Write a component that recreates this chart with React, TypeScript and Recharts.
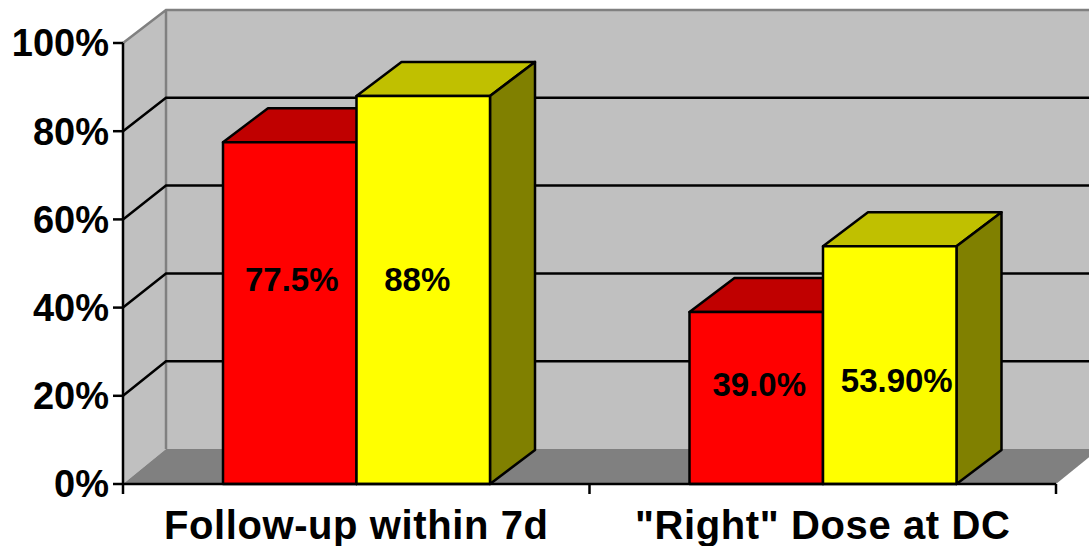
import { BarChart, Bar, XAxis, YAxis, LabelList, usePlotArea } from 'recharts';

const categories = ['Follow-up within 7d', '"Right" Dose at DC'];
const redValues = [77.5, 39.0];
const yellowValues = [88, 53.9];
const redLabels = ['77.5%', '39.0%'];
const yellowLabels = ['88%', '53.90%'];
const yTicks = [0, 20, 40, 60, 80, 100];

const chartData = categories.map((category, i) => ({
  category,
  red: redValues[i],
  yellow: yellowValues[i],
}));

const FONT = '"Liberation Sans", Arial, sans-serif';
const WALL_DX = 43;
const WALL_TOP = 33; // back wall top sits this far above the front 100% line
const WALL_FLOOR = 35; // back wall floor sits this far above the front 0% line
const BAR_DX = 45;
const BAR_DY = 34;
const LINE = 2.5;

// Floor, walls and gridlines behind the bars
const Walls = () => {
  const plot = usePlotArea();
  if (!plot) return null;
  const { x, y, width, height } = plot;
  const bottom = y + height;
  const backLeft = x + WALL_DX;
  const backRight = x + width + WALL_DX;
  const backTop = y - WALL_TOP;
  const backBottom = bottom - WALL_FLOOR;
  const frontY = (v: number) => bottom - (v / 100) * height;
  const backY = (v: number) => backBottom - (v / 100) * (backBottom - backTop);

  return (
    <g>
      <rect x={backLeft} y={backTop} width={backRight - backLeft} height={backBottom - backTop} fill="#c0c0c0" />
      <polygon
        points={`${x},${y} ${backLeft},${backTop} ${backLeft},${backBottom} ${x},${bottom}`}
        fill="#c0c0c0"
      />
      <polygon
        points={`${x},${bottom} ${backLeft},${backBottom} ${backRight},${backBottom} ${x + width},${bottom}`}
        fill="#808080"
      />
      <path
        d={`M${x},${y} L${backLeft},${backTop} L${backRight},${backTop} M${backLeft},${backTop} L${backLeft},${backBottom}`}
        fill="none"
        stroke="#808080"
        strokeWidth={LINE}
      />
      {yTicks
        .filter((v) => v > 0 && v < 100)
        .map((v) => (
          <path
            key={v}
            d={`M${x},${frontY(v)} L${backLeft},${backY(v)} L${backRight},${backY(v)}`}
            fill="none"
            stroke="#000"
            strokeWidth={LINE}
          />
        ))}
    </g>
  );
};

// Tick marks sit on the category boundaries, not on the band centres
const CategoryTicks = () => {
  const plot = usePlotArea();
  if (!plot) return null;
  const band = plot.width / categories.length;
  const bottom = plot.y + plot.height;
  return (
    <g>
      {[0, 1, 2].map((i) => (
        <line
          key={i}
          x1={plot.x + i * band}
          x2={plot.x + i * band}
          y1={bottom}
          y2={bottom + 10}
          stroke="#000"
          strokeWidth={LINE}
        />
      ))}
    </g>
  );
};

// Front face plus darker top and side faces
const Bar3D = ({ x, y, width, height, fill, topFill, sideFill }: any) => (
  <g stroke="#000" strokeWidth={LINE} strokeLinejoin="round">
    <polygon
      points={`${x},${y} ${x + BAR_DX},${y - BAR_DY} ${x + width + BAR_DX},${y - BAR_DY} ${x + width},${y}`}
      fill={topFill}
    />
    <polygon
      points={`${x + width},${y} ${x + width + BAR_DX},${y - BAR_DY} ${x + width + BAR_DX},${y + height - BAR_DY} ${x + width},${y + height}`}
      fill={sideFill}
    />
    <rect x={x} y={y} width={width} height={height} fill={fill} />
  </g>
);

const valueLabel = (texts: string[], nudges: number[][]) => (props: any) => {
  const { x, y, width, height, index } = props;
  return (
    <text
      x={x + width / 2 + nudges[index][0]}
      y={y + height / 2 + nudges[index][1]}
      textAnchor="middle"
      dominantBaseline="central"
      fontFamily={FONT}
      fontWeight="bold"
      fontSize={33}
      fill="#000"
    >
      {texts[index]}
    </text>
  );
};

const App = () => (
  <div style={{ position: 'absolute', left: 0, top: 0, width: 1089, height: 546, overflow: 'hidden' }}>
    <BarChart
      width={1089}
      height={546}
      data={chartData}
      margin={{ top: 43, right: 33, bottom: 0, left: 0 }}
      barSize={133.5}
      barGap={0}
    >
      <Walls />
      <XAxis
        dataKey="category"
        height={62}
        tickLine={false}
        axisLine={{ stroke: '#000', strokeWidth: LINE }}
        tick={{ fill: '#000', fontFamily: FONT, fontWeight: 'bold', fontSize: 40, letterSpacing: 0.6 }}
        tickMargin={21}
        interval={0}
      />
      <YAxis
        width={123}
        domain={[0, 100]}
        ticks={yTicks}
        tickFormatter={(v: number) => `${v}%`}
        tickSize={10}
        tickLine={{ stroke: '#000', strokeWidth: LINE }}
        axisLine={{ stroke: '#000', strokeWidth: LINE }}
        tick={{ fill: '#000', fontFamily: FONT, fontWeight: 'bold', fontSize: 38 }}
        tickMargin={4}
      />
      <Bar
        dataKey="red"
        fill="#ff0000"
        isAnimationActive={false}
        shape={(props: any) => <Bar3D {...props} fill="#ff0000" topFill="#c00000" sideFill="#800000" />}
      >
        <LabelList
          dataKey="red"
          content={valueLabel(redLabels, [[2, -34], [3, -14]])}
        />
      </Bar>
      <Bar
        dataKey="yellow"
        fill="#ffff00"
        isAnimationActive={false}
        shape={(props: any) => <Bar3D {...props} fill="#ffff00" topFill="#c0c000" sideFill="#808000" />}
      >
        <LabelList
          dataKey="yellow"
          content={valueLabel(yellowLabels, [[-6, -10], [7, 15]])}
        />
      </Bar>
      <CategoryTicks />
    </BarChart>
  </div>
);

export default App;
